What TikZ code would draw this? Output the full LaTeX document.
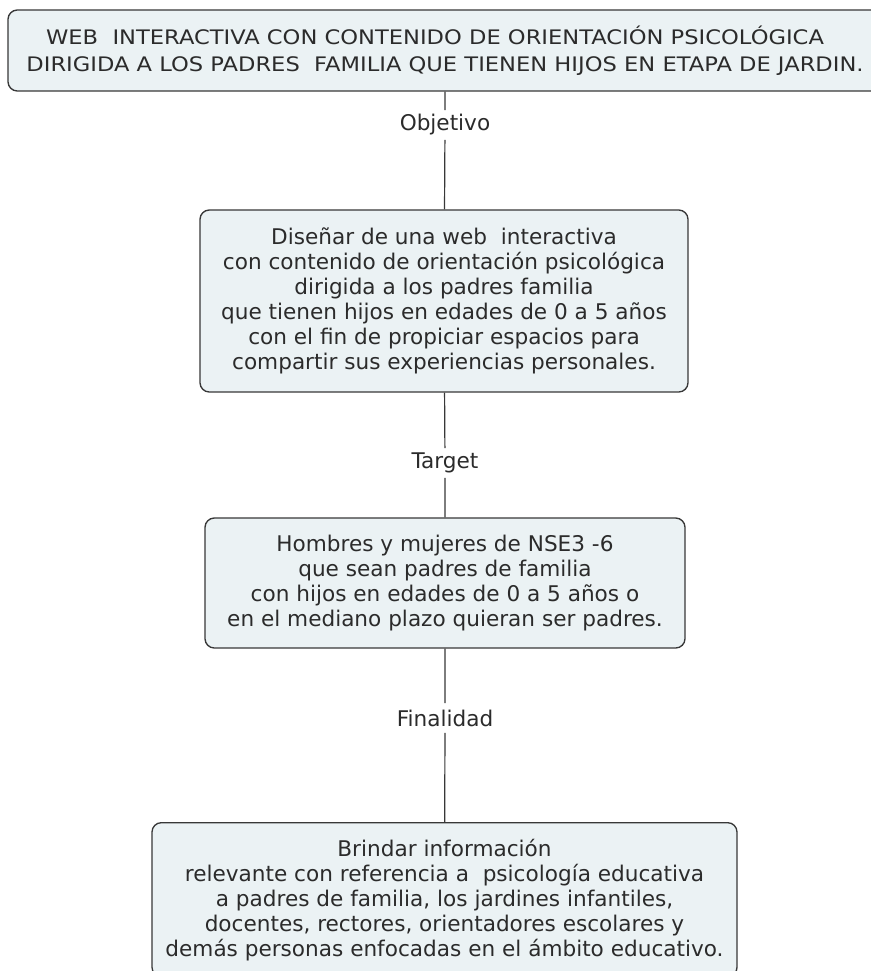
\documentclass[tikz,border=0pt]{standalone}
\usepackage{fontspec}
\setmainfont{DejaVu Sans}
\newfontfamily\widefont[FakeStretch=1.13]{DejaVu Sans}
\usepackage{tikz}
\definecolor{boxfill}{HTML}{EBF2F4}
\definecolor{boxline}{HTML}{383838}
\definecolor{inktext}{HTML}{2B2B2B}
\tikzstyle{concept}=[draw=boxline, fill=boxfill, line width=1pt, rounded corners=7pt,
                     align=center, inner sep=0, text=inktext,
                     font=\fontsize{16.2}{18.75}\selectfont]
\tikzstyle{linkword}=[inner xsep=2pt, inner ysep=0, minimum height=22pt, text=inktext,
                      font=\fontsize{16.2}{18}\selectfont]
\tikzstyle{link}=[draw=boxline, line width=0.9pt]
\tikzstyle{conceptmap}=[x=0.75pt, y=-0.75pt]

\begin{document}
\begin{tikzpicture}[conceptmap]
        \useasboundingbox (0, 0) rectangle (871, 971);
        \node[concept, minimum width=655.5pt, minimum height=60.75pt,
              font=\widefont\fontsize{15}{20.25}\selectfont] (title) at (445, 50.5)
            {WEB~ INTERACTIVA CON CONTENIDO DE ORIENTACIÓN PSICOLÓGICA\hspace*{15pt}\\
             DIRIGIDA A LOS PADRES~ FAMILIA QUE TIENEN HIJOS EN ETAPA DE JARDIN.};
        \node[concept, minimum width=366pt, minimum height=136.5pt] (aim) at (444, 301)
            {Diseñar de una web~ interactiva\\
             con contenido de orientación psicológica~\\
             dirigida a los padres familia\\
             que tienen hijos en edades de 0 a 5 años\\
             con el fin de propiciar espacios para\\
             compartir sus experiencias personales.};
        \node[concept, minimum width=360pt, minimum height=97.5pt] (public) at (445, 583)
            {Hombres y mujeres de NSE3 -6\\
             que sean padres de familia\\
             con hijos en edades de 0 a 5 años o\\
             en el mediano plazo quieran ser padres.};
        \node[concept, minimum width=438.75pt, minimum height=115.5pt, anchor=north] (goal) at (444.5, 822)
            {Brindar información\\
             relevante con referencia a~ psicología educativa\\
             a padres de familia, los jardines infantiles,\\
             docentes, rectores, orientadores escolares y\\
             demás personas enfocadas en el ámbito educativo.};
        \node[linkword] (objetivo) at (445, 125) {Objetivo};
        \node[linkword] (target) at (445, 463) {Target};
        \node[linkword] (finalidad) at (445, 718) {Finalidad};
        \draw[link] (title.south -| objetivo) -- (objetivo) -- (aim);
        \draw[link] (aim) -- (target) -- (public);
        \draw[link] (public) -- (finalidad) -- (goal);
    \end{tikzpicture}
\end{document}
